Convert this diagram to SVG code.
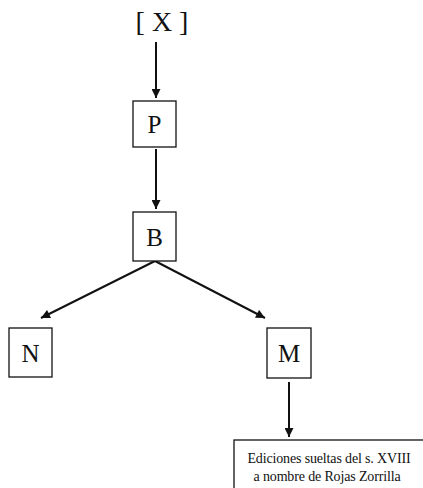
<svg xmlns="http://www.w3.org/2000/svg" width="423" height="488" viewBox="0 0 423 488">
<defs>
<marker id="ah" viewBox="0 0 10 10" refX="10" refY="5" markerWidth="10" markerHeight="9" markerUnits="userSpaceOnUse" orient="auto">
<path d="M0,0 L10,5 L0,10 z" fill="#111"/>
</marker>
<style>
.box{fill:#fff;stroke:#111;stroke-width:1.3}
.lbl{font-family:"Liberation Serif",serif;font-size:25px;fill:#111;text-anchor:middle}
.small{font-family:"Liberation Serif",serif;font-size:14px;letter-spacing:-0.15px;fill:#111;text-anchor:middle}
.edge{stroke:#111;stroke-width:2;fill:none;marker-end:url(#ah)}
</style>
</defs>
<rect width="423" height="488" fill="#fff"/>
<g id="connectors">
<line class="edge" x1="156" y1="42" x2="156" y2="98"/>
<line class="edge" x1="156" y1="149" x2="156" y2="209"/>
<line class="edge" x1="155" y1="261" x2="41" y2="318"/>
<line class="edge" x1="155" y1="261" x2="265" y2="318"/>
<line class="edge" x1="289" y1="382" x2="289" y2="437"/>
</g>
<g id="nX">
<text class="lbl" x="162" y="31" style="font-size:28px">[ X ]</text>
</g>
<g id="nP">
<rect class="box" x="133" y="101" width="43" height="46"/>
<text class="lbl" x="154.5" y="133">P</text>
</g>
<g id="nB">
<rect class="box" x="133" y="212" width="43" height="49"/>
<text class="lbl" x="154.5" y="246">B</text>
</g>
<g id="nN">
<rect class="box" x="9" y="328" width="43" height="49"/>
<text class="lbl" x="30.5" y="362">N</text>
</g>
<g id="nM">
<rect class="box" x="267" y="328" width="44" height="50"/>
<text class="lbl" x="289" y="362">M</text>
</g>
<g id="nE">
<rect class="box" x="234" y="440" width="192" height="60"/>
<text class="small" x="329" y="463">Ediciones sueltas del s. XVIII</text>
<text class="small" x="327" y="481">a nombre de Rojas Zorrilla</text>
</g>
</svg>
